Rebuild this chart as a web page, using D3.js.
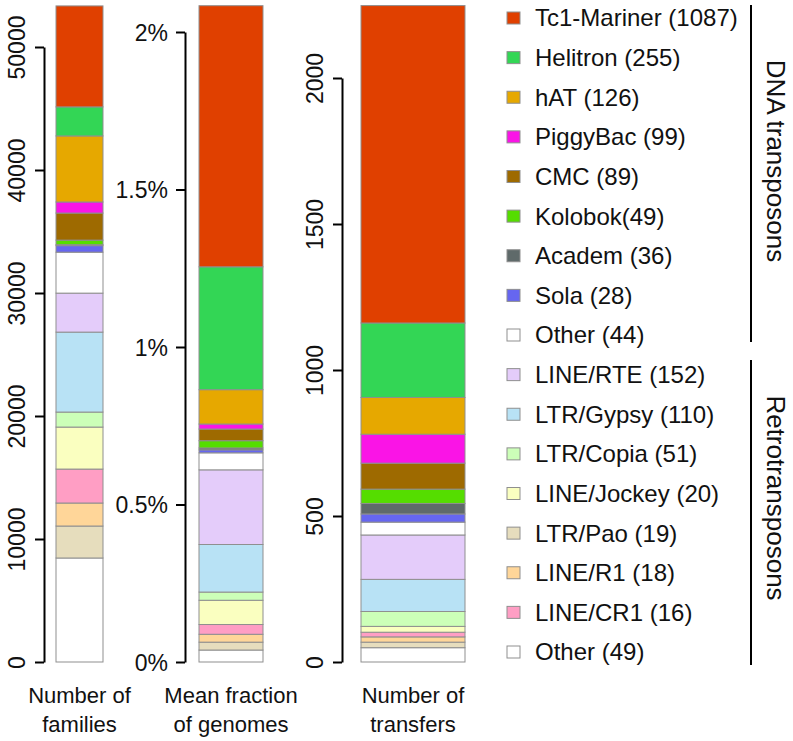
<!DOCTYPE html>
<html><head><meta charset="utf-8">
<script src="https://cdn.jsdelivr.net/npm/d3@7"></script>
<style>
html,body{margin:0;padding:0;background:#fff;}
text{font-family:"Liberation Sans",Arial,Helvetica,sans-serif;fill:#111;}
</style></head>
<body><svg id="chart" width="793" height="741"></svg>
<script>
// ---- data (legend order) ----
const categories = ["Tc1-Mariner","Helitron","hAT","PiggyBac","CMC","Kolobok","Academ","Sola","Other DNA",
                    "LINE/RTE","LTR/Gypsy","LTR/Copia","LINE/Jockey","LTR/Pao","LINE/R1","LINE/CR1","Other retro"];
const legendLabels = ["Tc1-Mariner (1087)","Helitron (255)","hAT (126)","PiggyBac (99)","CMC (89)","Kolobok(49)",
                      "Academ (36)","Sola (28)","Other (44)","LINE/RTE (152)","LTR/Gypsy (110)","LTR/Copia (51)",
                      "LINE/Jockey (20)","LTR/Pao (19)","LINE/R1 (18)","LINE/CR1 (16)","Other (49)"];
const colors = ["#e04000","#33d655","#e6a800","#fa14e6","#9e6a00","#55dd00","#5f6a6a","#6666f0","#ffffff",
                "#e4ccfa","#b8e2f5","#ccffb8","#faffc0","#e6ddbd","#ffd699","#ff9ec4","#ffffff"];
const families =       [8210, 2360, 5370, 900, 2200, 370, 80, 530, 3330, 3170, 6500, 1220, 3415, 2600, 1870, 2760, 8455];
const genomeFraction = [0.829,0.390,0.109,0.016,0.037,0.023,0.006,0.0095,0.054,0.237,0.151,0.026,0.077,0.025,0.025,0.031,0.038];
const transfers =      [1087, 255, 126, 99, 89, 49, 36, 28, 44, 152, 110, 51, 20, 19, 18, 16, 49];
// stacking order, bottom to top
const stackOrder = ["Other retro","LTR/Pao","LINE/R1","LINE/CR1","LINE/Jockey","LTR/Copia","LTR/Gypsy","LINE/RTE",
                    "Other DNA","Sola","Academ","Kolobok","CMC","PiggyBac","hAT","Helitron","Tc1-Mariner"];
const ticks1 = [0,10000,20000,30000,40000,50000];
const ticks2 = [0,0.5,1,1.5,2];
const ticks2Labels = ["0%","0.5%","1%","1.5%","2%"];
const ticks3 = [0,500,1000,1500,2000];
const panelTitles = [["Number of","families"],["Mean fraction","of genomes"],["Number of","transfers"]];
const groupLabels = ["DNA transposons","Retrotransposons"];

const svg = d3.select("#chart");
const color = d3.scaleOrdinal().domain(categories).range(colors);

const panels = [
  {values: families, ticks: ticks1, fmt: d => String(d), rotate: true, axisX: 44, barX: 56, barW: 47, top: 47, max: 50000},
  {values: genomeFraction, ticks: ticks2, fmt: (d,i) => ticks2Labels[i], rotate: false, axisX: 185, barX: 199, barW: 64, top: 32, max: 2},
  {values: transfers, ticks: ticks3, fmt: d => String(d), rotate: true, axisX: 342, barX: 361, barW: 104, top: 78, max: 2000}
];

panels.forEach((p, pi) => {
  const y = d3.scaleLinear().domain([0, p.max]).range([662, p.top]);
  const row = {};
  categories.forEach((c, i) => row[c] = p.values[i]);
  const series = d3.stack().keys(stackOrder)([row]);
  const g = svg.append("g");
  g.selectAll("rect").data(series).join("rect")
    .attr("x", p.barX).attr("width", p.barW)
    .attr("y", d => y(d[0][1])).attr("height", d => y(d[0][0]) - y(d[0][1]))
    .attr("fill", d => color(d.key))
    .attr("stroke", "#8f8f8f").attr("stroke-width", 1);

  const axis = d3.axisLeft(y).tickValues(p.ticks).tickFormat(p.fmt).tickSize(9).tickSizeOuter(0);
  const ag = svg.append("g").attr("transform", `translate(${p.axisX},0)`).call(axis);
  ag.select(".domain").attr("stroke", "#000").attr("stroke-width", 2);
  ag.selectAll(".tick line").attr("stroke", "#000").attr("stroke-width", 2);
  ag.selectAll(".tick text").attr("font-size", 23).attr("fill", "#111")
    .style("font-family", '"Liberation Sans",Arial,Helvetica,sans-serif');
  if (p.rotate) {
    ag.selectAll(".tick text").attr("x", null).attr("dy", null).attr("y", null)
      .attr("text-anchor", "middle").attr("transform", "translate(-19,0) rotate(-90)");
  } else {
    ag.selectAll(".tick text").attr("x", -17).attr("dy", "0.35em").attr("text-anchor", "end");
  }

  const cx = p.barX + p.barW / 2;
  panelTitles[pi].forEach((t, li) => {
    svg.append("text").attr("x", cx).attr("y", 703 + li * 29).attr("text-anchor", "middle")
      .attr("font-size", 22).text(t);
  });
});

// legend
const ly = d3.scaleLinear().domain([0, 16]).range([18, 652]);
const lg = svg.append("g");
legendLabels.forEach((lab, i) => {
  lg.append("rect").attr("x", 507).attr("y", ly(i) - 6).attr("width", 13).attr("height", 12)
    .attr("fill", colors[i]).attr("stroke", "#8f8f8f").attr("stroke-width", 1);
  lg.append("text").attr("x", 535).attr("y", ly(i)).attr("dy", "0.35em").attr("font-size", 24).text(lab);
});

// group brackets
const brackets = [{y0: 5, y1: 342, ly: 161}, {y0: 360, y1: 665, ly: 498}];
brackets.forEach((b, i) => {
  svg.append("line").attr("x1", 751).attr("x2", 751).attr("y1", b.y0).attr("y2", b.y1)
    .attr("stroke", "#000").attr("stroke-width", 2);
  svg.append("text").attr("transform", `translate(767,${b.ly}) rotate(90)`)
    .attr("text-anchor", "middle").attr("font-size", 26).text(groupLabels[i]);
});
</script></body></html>
